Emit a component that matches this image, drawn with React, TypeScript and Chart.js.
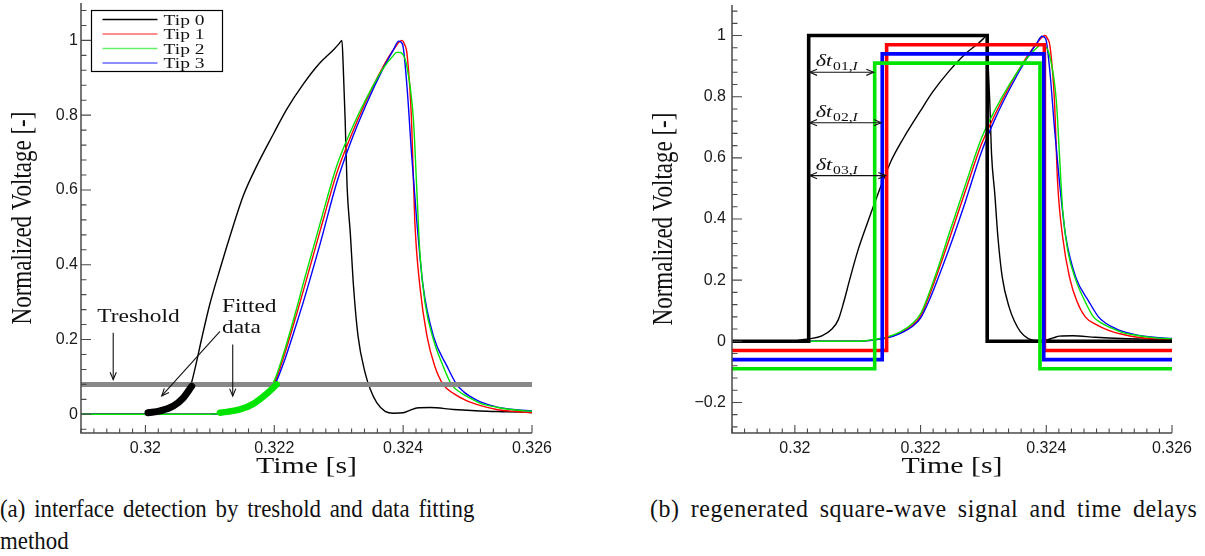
import React, { useEffect, useRef } from "react";
import { Chart, registerables } from "chart.js";

Chart.register(...registerables);

// ---------------- data ----------------
const tipLabels = ["Tip 0", "Tip 1", "Tip 2", "Tip 3"];

const tip0Time = [0.319, 0.32, 0.32005, 0.32023, 0.32043, 0.32059, 0.32069, 0.32078, 0.32087, 0.321, 0.32116, 0.32131, 0.32152, 0.32173, 0.32199, 0.32219, 0.32245, 0.32271, 0.32292, 0.323, 0.32305, 0.32307, 0.3231, 0.32313, 0.32318, 0.32323, 0.3233, 0.32341, 0.32349, 0.32359, 0.32372, 0.32385, 0.324, 0.32411, 0.32421, 0.32442, 0.32478, 0.32519, 0.3256, 0.326];
const tip0Volt = [0, 0, 0.003, 0.008, 0.018, 0.04, 0.07, 0.13, 0.2, 0.295, 0.39, 0.475, 0.585, 0.665, 0.751, 0.815, 0.883, 0.94, 0.975, 0.99, 1.0, 0.93, 0.787, 0.609, 0.484, 0.342, 0.209, 0.111, 0.067, 0.031, 0.008, 0.003, 0.004, 0.011, 0.017, 0.018, 0.013, 0.009, 0.007, 0.005];

const tip1Time = [0.319, 0.321, 0.32116, 0.32147, 0.32167, 0.32188, 0.322, 0.32214, 0.32235, 0.32245, 0.32271, 0.32297, 0.32318, 0.32343, 0.32369, 0.32385, 0.32398, 0.32402, 0.32406, 0.32413, 0.32418, 0.32426, 0.32437, 0.32449, 0.32462, 0.32478, 0.32499, 0.32519, 0.32545, 0.32571, 0.326];
const tip1Volt = [0, 0, 0.002, 0.012, 0.027, 0.054, 0.082, 0.15, 0.27, 0.33, 0.49, 0.645, 0.74, 0.84, 0.93, 0.975, 1.0, 0.99, 0.964, 0.787, 0.52, 0.342, 0.209, 0.129, 0.08, 0.056, 0.036, 0.024, 0.013, 0.008, 0.004];

const tip2Time = [0.319, 0.321, 0.32116, 0.32147, 0.32167, 0.32188, 0.322, 0.32214, 0.32235, 0.32245, 0.32271, 0.32297, 0.32318, 0.32343, 0.32369, 0.32385, 0.3239, 0.32395, 0.32406, 0.32416, 0.32421, 0.32426, 0.32434, 0.32447, 0.32462, 0.32475, 0.3249, 0.32504, 0.32519, 0.32545, 0.32571, 0.326];
const tip2Volt = [0, 0, 0.003, 0.014, 0.03, 0.06, 0.09, 0.16, 0.285, 0.35, 0.51, 0.665, 0.755, 0.845, 0.925, 0.96, 0.968, 0.968, 0.929, 0.787, 0.609, 0.431, 0.298, 0.2, 0.129, 0.08, 0.057, 0.043, 0.03, 0.019, 0.012, 0.008];

const tip3Time = [0.319, 0.321, 0.32116, 0.32147, 0.32167, 0.32188, 0.322, 0.32214, 0.32235, 0.32245, 0.32271, 0.32297, 0.32318, 0.32343, 0.32369, 0.32385, 0.32393, 0.32399, 0.32406, 0.32413, 0.32421, 0.32431, 0.32447, 0.32468, 0.32483, 0.32494, 0.32504, 0.32519, 0.32545, 0.32571, 0.326];
const tip3Volt = [0, 0, 0.002, 0.011, 0.025, 0.05, 0.076, 0.135, 0.245, 0.3, 0.455, 0.62, 0.725, 0.83, 0.925, 0.975, 0.998, 0.99, 0.876, 0.698, 0.52, 0.342, 0.209, 0.129, 0.08, 0.06, 0.048, 0.034, 0.02, 0.013, 0.009];

// fitted portions (thick) in panel (a)
const fitTip0Time = [0.32004, 0.320226, 0.320433, 0.320588, 0.320718];
const fitTip0Volt = [0.004, 0.009, 0.022, 0.044, 0.075];
const fitTip2Time = [0.321157, 0.321468, 0.321674, 0.321882, 0.322037];
const fitTip2Volt = [0.004, 0.013, 0.028, 0.055, 0.08];

const thresholdLevel = 0.08;

// regenerated square waves in panel (b)
const squareRise = [0.32022, 0.32146, 0.32127, 0.32139];
const squareFall = [0.32306, 0.32397, 0.3239, 0.32396];
const squareHigh = [1, 0.97, 0.91, 0.94];
const squareLow = [0, -0.03, -0.09, -0.06];

// time delay markers in panel (b)
const delayLabels = ["01,I", "02,I", "03,I"];
const delayLevels = [0.88, 0.715, 0.542];
const delayEnds = [0.32127, 0.32139, 0.32146];

// axes
const xTickValues = [0.32, 0.322, 0.324, 0.326];
const yTickValuesA = [0, 0.2, 0.4, 0.6, 0.8, 1];
const yTickValuesB = [-0.2, 0, 0.2, 0.4, 0.6, 0.8, 1];
const X_MIN = 0.319;
const X_MAX = 0.326;
const X_MINOR = 0.0002;
const Y_MINOR = 0.04;
const X_TITLE = "Time [s]";
const Y_TITLE = "Normalized Voltage [-]";

// annotation anchors (data space) for panel (a)
const noteTreshold = { t: 0.319892, v: 0.246 };
const arrowTreshold = { t: 0.3195, v1: 0.218, v2: 0.093 };
const noteFitted = { t: 0.321188, v1: 0.273, v2: 0.218 };
const arrowFitted1 = { t1: 0.321157, v1: 0.222, t2: 0.320253, v2: 0.049 };
const arrowFitted2 = { t: 0.321355, v1: 0.187, v2: 0.049 };

// ---------------- styles ----------------
const tipColors = ["#000000", "#ff0000", "#00e400", "#0000ff"];
const tipOrder = [3, 2, 0, 1];
const STRETCH = 1.3;
const SERIF = '"Liberation Serif", "Times New Roman", serif';
const tickFont = { family: '"Liberation Sans", Arial, sans-serif', size: 16 };

const pts = (t: number[], v: number[]) => t.map((x, i) => ({ x, y: v[i] }));

function drawText(
  ctx: CanvasRenderingContext2D,
  text: string,
  x: number,
  y: number,
  size: number,
  o: { align?: CanvasTextAlign; italic?: boolean; rotate?: boolean } = {}
) {
  ctx.save();
  ctx.translate(x, y);
  ctx.scale(STRETCH, 1);
  if (o.rotate) ctx.rotate(-Math.PI / 2);
  ctx.font = `${o.italic ? "italic " : ""}${size}px ${SERIF}`;
  ctx.textAlign = o.align || "left";
  ctx.textBaseline = "alphabetic";
  ctx.fillStyle = "#111";
  ctx.fillText(text, 0, 0);
  ctx.restore();
}

function textWidth(ctx: CanvasRenderingContext2D, text: string, size: number, italic = false) {
  ctx.save();
  ctx.font = `${italic ? "italic " : ""}${size}px ${SERIF}`;
  const w = ctx.measureText(text).width * STRETCH;
  ctx.restore();
  return w;
}

function head(ctx: CanvasRenderingContext2D, x: number, y: number, ang: number, len = 8) {
  const s = 0.4;
  ctx.beginPath();
  ctx.moveTo(x - len * Math.cos(ang - s), y - len * Math.sin(ang - s));
  ctx.lineTo(x, y);
  ctx.lineTo(x - len * Math.cos(ang + s), y - len * Math.sin(ang + s));
  ctx.stroke();
}

function arrow(ctx: CanvasRenderingContext2D, x1: number, y1: number, x2: number, y2: number, both = false) {
  ctx.save();
  ctx.strokeStyle = "#111";
  ctx.lineWidth = 1.1;
  ctx.beginPath();
  ctx.moveTo(x1, y1);
  ctx.lineTo(x2, y2);
  ctx.stroke();
  const ang = Math.atan2(y2 - y1, x2 - x1);
  head(ctx, x2, y2, ang);
  if (both) head(ctx, x1, y1, ang + Math.PI);
  ctx.restore();
}

const axesPlugin = {
  id: "inwardAxes",
  afterDatasetsDraw(chart: any) {
    const { ctx, chartArea: a } = chart;
    const xs = chart.scales.x;
    const ys = chart.scales.y;
    ctx.save();
    ctx.strokeStyle = "#4a4a4a";
    ctx.lineWidth = 1.5;
    ctx.beginPath();
    ctx.moveTo(a.left, a.top);
    ctx.lineTo(a.left, a.bottom);
    ctx.lineTo(a.right, a.bottom);
    ctx.stroke();
    ctx.lineWidth = 1.1;
    ctx.beginPath();
    const k0 = Math.round(X_MIN / X_MINOR);
    const k1 = Math.round(X_MAX / X_MINOR);
    for (let k = k0; k <= k1; k++) {
      const px = xs.getPixelForValue(k * X_MINOR);
      const len = k % 10 === 0 ? 8 : 4.5;
      ctx.moveTo(px, a.bottom);
      ctx.lineTo(px, a.bottom - len);
    }
    const j0 = Math.ceil(ys.min / Y_MINOR - 1e-6);
    const j1 = Math.floor(ys.max / Y_MINOR + 1e-6);
    for (let j = j0; j <= j1; j++) {
      const py = ys.getPixelForValue(j * Y_MINOR);
      const len = j % 5 === 0 ? 10 : 5.5;
      ctx.moveTo(a.left, py);
      ctx.lineTo(a.left + len, py);
    }
    ctx.stroke();
    ctx.restore();
  },
};

function titlesPlugin(yTitleX: number) {
  return {
    id: "axisTitles",
    afterDraw(chart: any) {
      const a = chart.chartArea;
      const ctx = chart.ctx;
      drawText(ctx, X_TITLE, (a.left + a.right) / 2, 473, 23, { align: "center" });
      drawText(ctx, Y_TITLE, yTitleX, (a.top + a.bottom) / 2, 23, { align: "center", rotate: true });
    },
  };
}

const legendPlugin = {
  id: "boxLegend",
  afterDraw(chart: any) {
    const ctx = chart.ctx;
    const a = chart.chartArea;
    const x0 = Math.round(a.left + 10) + 0.5;
    const y0 = Math.round(a.top + 7) + 0.5;
    ctx.save();
    ctx.fillStyle = "#fff";
    ctx.fillRect(x0, y0, 131, 61);
    ctx.strokeStyle = "#000";
    ctx.lineWidth = 1.2;
    ctx.strokeRect(x0, y0, 131, 61);
    tipLabels.forEach((label, i) => {
      const ds = chart.data.datasets.find((d: any) => d.label === label);
      const y = y0 + 9 + i * 14.5;
      ctx.strokeStyle = ds ? ds.borderColor : "#000";
      ctx.globalAlpha = i === 0 ? 1 : 0.6;
      ctx.lineWidth = 1.5;
      ctx.beginPath();
      ctx.moveTo(x0 + 11, y);
      ctx.lineTo(x0 + 66, y);
      ctx.stroke();
      ctx.globalAlpha = 1;
      drawText(ctx, label, x0 + 72, y + 5, 15);
    });
    ctx.restore();
  },
};

const notesA = {
  id: "notesA",
  afterDatasetsDraw(chart: any) {
    const ctx = chart.ctx;
    const X = (v: number) => chart.scales.x.getPixelForValue(v);
    const Y = (v: number) => chart.scales.y.getPixelForValue(v);
    drawText(ctx, "Treshold", X(noteTreshold.t), Y(noteTreshold.v), 18, { align: "center" });
    arrow(ctx, X(arrowTreshold.t), Y(arrowTreshold.v1), X(arrowTreshold.t), Y(arrowTreshold.v2));
    drawText(ctx, "Fitted", X(noteFitted.t), Y(noteFitted.v1), 18);
    drawText(ctx, "data", X(noteFitted.t), Y(noteFitted.v2), 18);
    arrow(ctx, X(arrowFitted1.t1), Y(arrowFitted1.v1), X(arrowFitted1.t2), Y(arrowFitted1.v2));
    arrow(ctx, X(arrowFitted2.t), Y(arrowFitted2.v1), X(arrowFitted2.t), Y(arrowFitted2.v2));
  },
};

const notesB = {
  id: "notesB",
  afterDatasetsDraw(chart: any) {
    const ctx = chart.ctx;
    const X = (v: number) => chart.scales.x.getPixelForValue(v);
    const Y = (v: number) => chart.scales.y.getPixelForValue(v);
    const x0 = X(squareRise[0]);
    delayLevels.forEach((lv, i) => {
      const y = Y(lv);
      arrow(ctx, x0 + 1, y, X(delayEnds[i]) - 1, y, true);
      const lx = x0 + 7;
      const ly = y - 6;
      drawText(ctx, "\u03b4t", lx, ly, 17, { italic: true });
      let sx = lx + textWidth(ctx, "\u03b4t", 17, true) + 1;
      const [num, idx] = delayLabels[i].split(",");
      drawText(ctx, num + ",", sx, ly + 4, 12);
      sx += textWidth(ctx, num + ",", 12);
      drawText(ctx, idx, sx, ly + 4, 12, { italic: true });
    });
  },
};

const fmt = (v: any) => {
  const s = parseFloat(Number(v).toFixed(4)).toString();
  return s.replace("-", "\u2212");
};

function makeOptions(p: {
  yMin: number;
  yMax: number;
  yTicks: number[];
  padRight: number;
  padTop: number;
  yWidth: number;
  xHeight: number;
  yPad: number;
}) {
  return {
    responsive: false,
    animation: false,
    events: [],
    layout: { padding: { left: 0, right: p.padRight, top: p.padTop, bottom: 0 } },
    plugins: { legend: { display: false }, tooltip: { enabled: false }, title: { display: false } },
    elements: { point: { radius: 0 }, line: { borderJoinStyle: "round" } },
    scales: {
      x: {
        type: "linear",
        min: X_MIN,
        max: X_MAX,
        grid: { display: false, drawTicks: false },
        border: { display: false },
        ticks: { font: tickFont, color: "#1a1a1a", padding: 6, maxRotation: 0, autoSkip: false, callback: fmt },
        afterBuildTicks: (s: any) => {
          s.ticks = xTickValues.map((value) => ({ value }));
        },
        afterFit: (s: any) => {
          s.height = p.xHeight;
          s.paddingLeft = 0;
          s.paddingRight = 0;
        },
      },
      y: {
        type: "linear",
        min: p.yMin,
        max: p.yMax,
        grid: { display: false, drawTicks: false },
        border: { display: false },
        ticks: { font: tickFont, color: "#1a1a1a", padding: p.yPad, autoSkip: false, callback: fmt },
        afterBuildTicks: (s: any) => {
          s.ticks = p.yTicks.map((value) => ({ value }));
        },
        afterFit: (s: any) => {
          s.width = p.yWidth;
          s.paddingTop = 0;
          s.paddingBottom = 0;
        },
      },
    },
  };
}

const tipTimes = [tip0Time, tip1Time, tip2Time, tip3Time];
const tipVolts = [tip0Volt, tip1Volt, tip2Volt, tip3Volt];

function tipDatasets(orderBase: number) {
  return tipLabels.map((label, i) => ({
    label,
    data: pts(tipTimes[i], tipVolts[i]),
    borderColor: tipColors[i],
    borderWidth: 1.4,
    cubicInterpolationMode: "monotone",
    order: orderBase + tipOrder[i],
  }));
}

const CANVAS_H = 490;

function configA() {
  const datasets: any[] = [
    { label: "fit tip 0", data: pts(fitTip0Time, fitTip0Volt), borderColor: tipColors[0], borderWidth: 7, cubicInterpolationMode: "monotone", borderCapStyle: "round", order: 0 },
    { label: "fit tip 2", data: pts(fitTip2Time, fitTip2Volt), borderColor: tipColors[2], borderWidth: 6.5, cubicInterpolationMode: "monotone", borderCapStyle: "round", order: 0 },
    { label: "threshold", data: pts([X_MIN, X_MAX], [thresholdLevel, thresholdLevel]), borderColor: "#888888", borderWidth: 5, order: 1 },
    ...tipDatasets(2),
  ];
  return {
    type: "line",
    data: { datasets },
    options: makeOptions({ yMin: -0.05, yMax: 1.1, yTicks: yTickValuesA, padRight: 28, padTop: 3, yWidth: 81, xHeight: CANVAS_H - 433, yPad: 3 }),
    plugins: [axesPlugin, titlesPlugin(31), legendPlugin, notesA],
  };
}

function configB() {
  const squares = tipLabels.map((label, i) => ({
    label: "square " + label,
    data: pts(
      [X_MIN, squareRise[i], squareRise[i], squareFall[i], squareFall[i], X_MAX],
      [squareLow[i], squareLow[i], squareHigh[i], squareHigh[i], squareLow[i], squareLow[i]]
    ),
    borderColor: tipColors[i],
    borderWidth: 3.6,
    borderJoinStyle: "miter",
    order: [3, 2, 0, 1][i],
  }));
  const datasets: any[] = [...squares, ...tipDatasets(4)];
  return {
    type: "line",
    data: { datasets },
    options: makeOptions({ yMin: -0.3, yMax: 1.1, yTicks: yTickValuesB, padRight: 33, padTop: 5, yWidth: 92, xHeight: CANVAS_H - 433, yPad: 6 }),
    plugins: [axesPlugin, titlesPlugin(32), notesB],
  };
}

function Panel({ make, left, width }: { make: () => any; left: number; width: number }) {
  const ref = useRef<HTMLCanvasElement>(null);
  useEffect(() => {
    const chart = new Chart(ref.current as HTMLCanvasElement, make());
    return () => chart.destroy();
  }, []);
  return (
    <canvas
      ref={ref}
      width={width}
      height={CANVAS_H}
      style={{ position: "absolute", left, top: 0, width, height: CANVAS_H }}
    />
  );
}

const captionStyle: React.CSSProperties = {
  position: "absolute",
  fontFamily: SERIF,
  fontSize: 26,
  lineHeight: "30px",
  color: "#111",
  whiteSpace: "nowrap",
  textAlign: "justify",
  textAlignLast: "justify" as any,
  transformOrigin: "0 0",
};

export default function App() {
  return (
    <div style={{ position: "absolute", left: 0, top: 0, width: 1205, height: 556, overflow: "hidden", background: "#fff" }}>
      <Panel make={configA} left={0} width={560} />
      <Panel make={configB} left={640} width={565} />
      <div style={{ ...captionStyle, left: 0, top: 494, width: 539, transform: "scaleX(0.88)" }}>
        (a) interface detection by treshold and data fitting
      </div>
      <div style={{ ...captionStyle, left: 0, top: 526, textAlignLast: "left" as any, transform: "scaleX(0.88)" }}>method</div>
      <div style={{ ...captionStyle, left: 650, top: 494, width: 595, letterSpacing: "0.6px", transform: "scaleX(0.92)" }}>
        (b) regenerated square-wave signal and time delays
      </div>
    </div>
  );
}
